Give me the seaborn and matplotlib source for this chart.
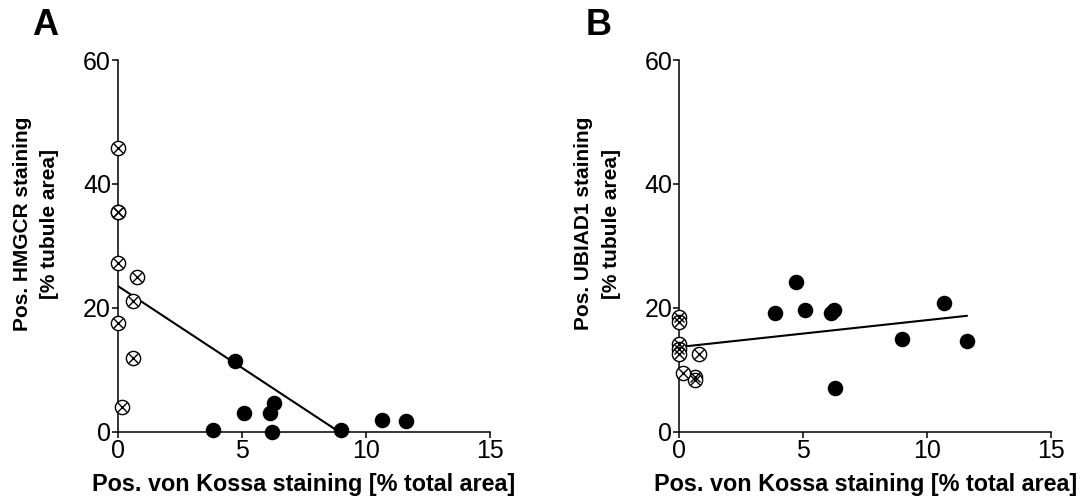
import pandas as pd
import seaborn as sns
import matplotlib.pyplot as plt

# control kidneys (open, crossed circles) and calcified kidneys (filled)
kossa_ctrl = [0, 0, 0, 0, 0, 0.78, 0.62, 0.62, 0.15]
hmgcr_ctrl = [45.8, 35.5, 35.5, 27.2, 17.5, 25.0, 21.1, 11.9, 4.0]
ubiad1_ctrl = [18.5, 17.7, 14.2, 13.3, 12.5, 12.5, 8.8, 8.4, 9.5]

kossa_calc = [3.84, 4.72, 5.07, 6.13, 6.22, 6.29, 8.98, 10.66, 11.6]
hmgcr_calc = [0.3, 11.45, 2.95, 2.95, 0.0, 4.6, 0.2, 1.9, 1.8]
ubiad1_calc = [19.2, 24.2, 19.6, 19.2, 19.6, 7.1, 15.0, 20.8, 14.6]

panel_letters = ['A', 'B']
y_labels = ['Pos. HMGCR staining\n[% tubule area]', 'Pos. UBIAD1 staining\n[% tubule area]']
x_label = 'Pos. von Kossa staining [% total area]'
x_ticks = [0, 5, 10, 15]
y_ticks = [0, 20, 40, 60]

df = pd.DataFrame({
    'kossa': kossa_ctrl + kossa_calc,
    'HMGCR': hmgcr_ctrl + hmgcr_calc,
    'UBIAD1': ubiad1_ctrl + ubiad1_calc,
    'group': ['ctrl'] * len(kossa_ctrl) + ['calc'] * len(kossa_calc),
})

sns.set_style('ticks')
plt.rcParams['font.family'] = ['Liberation Sans', 'DejaVu Sans']
plt.rcParams['text.color'] = 'black'
plt.rcParams['axes.labelcolor'] = 'black'

fig = plt.figure(figsize=(10.92, 5.03), dpi=100)
ax_a = fig.add_axes([0.1081, 0.1417, 0.3407, 0.7390])
ax_b = fig.add_axes([0.6221, 0.1417, 0.3407, 0.7390])

for ax, col, ylab in zip([ax_a, ax_b], ['HMGCR', 'UBIAD1'], y_labels):
    sns.regplot(data=df, x='kossa', y=col, ax=ax, scatter=False, ci=None,
                truncate=True, color='black', line_kws=dict(lw=1.5, zorder=2))
    ctrl = df[df['group'] == 'ctrl']
    calc = df[df['group'] == 'calc']
    sns.scatterplot(data=calc, x='kossa', y=col, ax=ax, color='black', s=125,
                    edgecolor='black', linewidth=0, zorder=4, clip_on=False)
    sns.scatterplot(data=ctrl, x='kossa', y=col, ax=ax, facecolor='white', s=105,
                    edgecolor='black', linewidth=1.0, zorder=4, clip_on=False)
    sns.scatterplot(data=ctrl, x='kossa', y=col, ax=ax, marker='x', color='black', s=52,
                    linewidth=1.0, zorder=5, clip_on=False)

    ax.set_xlim(0, 15)
    ax.set_ylim(0, 60)
    ax.set_xticks(x_ticks)
    ax.set_yticks(y_ticks)
    sns.despine(ax=ax)
    for s in ['left', 'bottom']:
        ax.spines[s].set_linewidth(1.1)
        ax.spines[s].set_color('black')
    ax.tick_params(axis='both', direction='out', length=4, width=1.1, color='black',
                   labelsize=18, labelcolor='black')
    ax.tick_params(axis='x', pad=1.5)
    ax.tick_params(axis='y', pad=1)
    ax.set_xlabel(x_label, fontsize=16.8, fontweight='bold', labelpad=7)
    ax.set_ylabel(ylab, fontsize=15, fontweight='bold', multialignment='center',
                  linespacing=1.55)
    ax.yaxis.set_label_coords(-0.158, 0.56)

fig.text(32 / 1092, 1 - 8 / 503, panel_letters[0], fontsize=26, fontweight='bold',
         ha='left', va='top')
fig.text(586 / 1092, 1 - 8 / 503, panel_letters[1], fontsize=26, fontweight='bold',
         ha='left', va='top')

fig.savefig('out.png', dpi=100)
plt.close(fig)
